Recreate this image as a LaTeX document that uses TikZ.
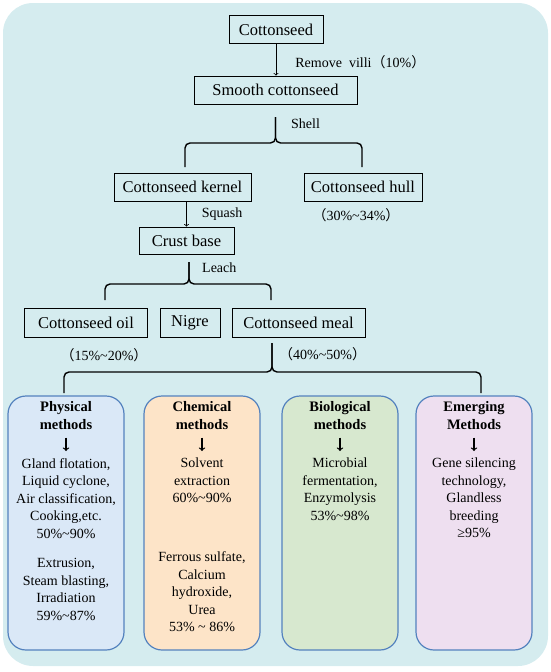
\documentclass[tikz,border=0pt]{standalone}
\usepackage{fontspec}
\setmainfont{Liberation Serif}
\newfontfamily\cjkfont{Noto Sans CJK SC}
\usepackage{xcolor}
\usepackage{tikz}
\usetikzlibrary{positioning}

\definecolor{paneback}{RGB}{213,236,239}
\definecolor{methodblue}{RGB}{84,130,190}
\definecolor{physfill}{RGB}{218,232,247}
\definecolor{chemfill}{RGB}{253,228,200}
\definecolor{biofill}{RGB}{215,232,207}
\definecolor{emergfill}{RGB}{238,223,240}

\newcommand{\fwl}{{\cjkfont （}}
\newcommand{\fwr}{{\cjkfont ）}}
\newcommand{\rng}{\textasciitilde}

\begin{document}
\begin{tikzpicture}[x=1pt,y=-1pt,
    stage/.style={draw, line width=0.8pt, font=\fontsize{16.5}{19}\selectfont, minimum height=28pt, inner sep=0pt},
    note/.style={font=\fontsize{14}{16}\selectfont, inner sep=0pt},
    brace/.style={line width=1.4pt, rounded corners=5pt},
    method/.style={draw=methodblue, line width=1.2pt, rounded corners=18pt, minimum width=116pt, minimum height=254pt},
    mtitle/.style={font=\bfseries\fontsize{14.5}{17.5}\selectfont, align=center, inner sep=0pt},
    mbody/.style={font=\fontsize{14}{17.5}\selectfont, align=center, inner sep=0pt, anchor=north},
    down/.style={->, line width=1.3pt}]
  \useasboundingbox (0,0) rectangle (550,672);
  \fill[paneback, rounded corners=30pt] (3,3) rectangle (548,666);

  % seed to kernel
  \node[stage, minimum width=94pt] (seed) at (276,29.5) {Cottonseed};
  \node[stage, minimum width=163pt] (smooth) at (275.5,90) {Smooth cottonseed};
  \draw[->, line width=0.8pt] (seed.south) -- node[note, anchor=west, xshift=19pt, yshift=-2pt] (villi) {Remove\ \ villi\fwl10\%\fwr} (seed.south |- smooth.north);

  \coordinate (shellTop) at (275.5,117);
  \coordinate (shellJoin) at (275.5,143);
  \coordinate (shellL) at (185,167);
  \coordinate (shellR) at (362,167);
  \draw[brace] (shellL) |- (shellJoin) -- (shellTop);
  \draw[brace] (shellR) |- (shellJoin) -- (shellTop);
  \node[note, anchor=west] (shell) at (291,124) {Shell};

  \node[stage, minimum width=137pt] (kernel) at (182.5,187) {Cottonseed kernel};
  \node[stage, minimum width=118pt] (hull) at (363,187) {Cottonseed hull};
  \node[note, below=7pt of hull, xshift=-7pt] (hullpct) {\fwl30\%\rng34\%\fwr};

  % crust and leaching
  \node[stage, minimum width=95pt, minimum height=27pt] (crust) at (186.5,240.5) {Crust base};
  \draw[->, line width=0.8pt] (crust.north |- kernel.south) -- node[note, anchor=west, xshift=15pt] (squash) {Squash} (crust.north);

  \coordinate (leachTop) at (189,262);
  \coordinate (leachJoin) at (189,284);
  \coordinate (leachL) at (105,300);
  \coordinate (leachR) at (271,300);
  \draw[brace] (leachL) |- (leachJoin) -- (leachTop);
  \draw[brace] (leachR) |- (leachJoin) -- (leachTop);
  \node[note, anchor=west] (leach) at (202,268) {Leach};

  \node[stage, minimum width=123pt, minimum height=29pt] (oil) at (86,322.5) {Cottonseed oil};
  \node[stage, minimum width=60pt, minimum height=29pt] (nigre) at (190,322.5) {Nigre};
  \node[stage, minimum width=133pt, minimum height=29pt] (meal) at (298.5,322.5) {Cottonseed meal};
  \node[note, below=11pt of oil, xshift=18pt] (oilpct) {\fwl15\%\rng20\%\fwr};
  \node[note, anchor=west] (mealpct) at (279,354) {\fwl40\%\rng50\%\fwr};

  \coordinate (mealTop) at (272,343);
  \coordinate (mealJoin) at (272,372);
  \coordinate (mealL) at (64,393);
  \coordinate (mealR) at (481,393);
  \draw[brace] (mealL) |- (mealJoin) -- (mealTop);
  \draw[brace] (mealR) |- (mealJoin) -- (mealTop);

  % detoxification methods
  \node[method, fill=physfill] (phys) at (66,523) {};
  \node[method, fill=chemfill] (chem) at (202,523) {};
  \node[method, fill=biofill] (bio) at (340,523) {};
  \node[method, fill=emergfill] (emerg) at (474,523) {};

  \node[mtitle] (physT) at (66,415.5) {Physical\\methods};
  \node[mtitle] (chemT) at (202,415.5) {Chemical\\methods};
  \node[mtitle] (bioT) at (340,415.5) {Biological\\methods};
  \node[mtitle] (emergT) at (474,415.5) {Emerging\\Methods};

  \node[mbody] (physB) at (66,458) {Gland flotation,\\Liquid cyclone,\\Air classification,\\Cooking,etc.\\50\%\rng90\%\\[12pt]Extrusion,\\Steam blasting,\\Irradiation\\59\%\rng87\%};
  \node[mbody] (chemB) at (202,458) {Solvent\\extraction\\60\%\rng90\%\\[41.5pt]Ferrous sulfate,\\Calcium\\hydroxide,\\Urea\\53\% \rng\ 86\%};
  \node[mbody] (bioB) at (340,458) {Microbial\\fermentation,\\Enzymolysis\\53\%\rng98\%};
  \node[mbody] (emergB) at (474,458) {Gene silencing\\technology,\\Glandless\\breeding\\≥95\%};

  \foreach \m in {phys,chem,bio,emerg}
    \draw[down] ([yshift=-8pt]\m T.south) -- ([yshift=7pt]\m B.north);
\end{tikzpicture}
\end{document}
